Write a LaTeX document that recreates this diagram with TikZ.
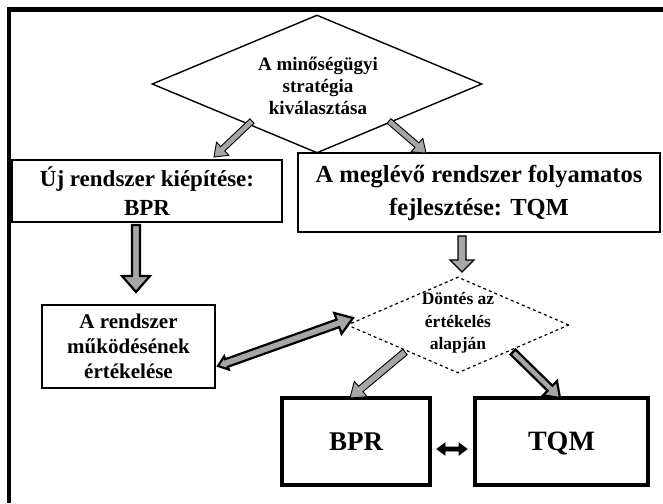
\documentclass[tikz,border=0pt]{standalone}
\usepackage{fontspec}
\setmainfont{Liberation Serif}
\usetikzlibrary{shapes.geometric,calc}
\newcommand{\blockarr}[6]{%
  \path ($(#3)!#6!(#2)$) coordinate (ba-neck);
  \draw[#1] ($(#2)!#4!90:(#3)$) -- ($(ba-neck)!#4!90:(#3)$) -- ($(ba-neck)!#5!90:(#3)$) -- (#3)
    -- ($(ba-neck)!#5!-90:(#3)$) -- ($(ba-neck)!#4!-90:(#3)$) -- ($(#2)!#4!-90:(#3)$) -- cycle;
}
\newcommand{\dblarr}[8]{%
  \path ($(#3)!#6!(#2)$) coordinate (da-n1) ($(#2)!#7!(#3)$) coordinate (da-n2);
  \draw[#1] (#2) -- ($(da-n2)!#8!90:(#3)$) -- ($(da-n2)!#4!90:(#3)$) -- ($(da-n1)!#4!90:(#3)$)
    -- ($(da-n1)!#5!90:(#3)$) -- (#3) -- ($(da-n1)!#5!-90:(#3)$) -- ($(da-n1)!#4!-90:(#3)$)
    -- ($(da-n2)!#4!-90:(#3)$) -- ($(da-n2)!#8!-90:(#3)$) -- cycle;
}
\tikzset{
  boxthin/.style={draw, line width=2pt, inner sep=0pt, align=center},
  boxthick/.style={draw, line width=4pt, inner sep=0pt, text depth=0pt},
  decision/.style={draw, diamond, inner sep=0pt, line width=1.4pt},
  dectext/.style={inner sep=0pt, align=center},
  garrow/.style={fill=gray!70, draw=black, line width=0.9pt, line join=miter},
  darrow/.style={fill=gray!70, draw=black, line width=2.2pt, line join=miter},
  barrow/.style={fill=black, draw=black, line width=0.8pt, line join=miter},
}
\begin{document}
\begin{tikzpicture}[x=1pt,y=-1pt]
\useasboundingbox (0,0) rectangle (663,503);
\fill[white] (0,0) rectangle (663,503);
% frame
\draw[line width=4.5pt] (9,503) -- (9,9.5) -- (663,9.5);
% nodes
\node[decision, minimum width=330pt, minimum height=138pt] (d1) at (317,84) {};
\node[dectext, font=\bfseries\fontsize{19}{22}\selectfont] (d1t) at (318,86) {A minőségügyi\\stratégia\\kiválasztása};
\node[boxthin, minimum width=270pt, minimum height=62pt,
      font=\bfseries\fontsize{23}{29}\selectfont] (lb) at (147,191) {Új rendszer kiépítése:\\BPR};
\node[boxthin, minimum width=362pt, minimum height=79pt,
      font=\bfseries\fontsize{24.5}{33}\selectfont] (rb) at (479,192.5) {A meglévő rendszer folyamatos\\fejlesztése: TQM};
\node[boxthin, minimum width=173pt, minimum height=83pt,
      font=\bfseries\fontsize{21}{25}\selectfont] (ev) at (128.5,346.5) {A rendszer\\működésének\\értékelése};
\node[decision, dashed, line width=1.2pt, minimum width=222pt, minimum height=96pt] (d2) at (458,325) {};
\node[dectext, font=\bfseries\fontsize{17.5}{22.5}\selectfont] (d2t) at (458,323) {Döntés az\\értékelés\\alapján};
\node[boxthick, minimum width=148pt, minimum height=87pt,
      font=\bfseries\fontsize{27}{30}\selectfont] (bpr) at (356,441.5) {BPR};
\node[boxthick, minimum width=173pt, minimum height=87pt,
      font=\bfseries\fontsize{28}{30}\selectfont] (tqm) at (561.5,441.5) {TQM};
% connector end points
\coordinate (a1s) at (252,121); \coordinate (a1e) at (214,157);
\coordinate (a2s) at (389,121); \coordinate (a2e) at (426,153);
\coordinate (a3s) at (136,225); \coordinate (a3e) at (136,292);
\coordinate (a4s) at (462,236); \coordinate (a4e) at (462,272);
\coordinate (a5s) at (218,366); \coordinate (a5e) at (353,318);
\coordinate (a6s) at (405,352); \coordinate (a6e) at (350,398);
\coordinate (a7s) at (513,352); \coordinate (a7e) at (560,398);
\coordinate (a8s) at (437,449); \coordinate (a8e) at (467,449);
% connectors
\blockarr{garrow}{a1s}{a1e}{3pt}{9pt}{12pt}
\blockarr{garrow}{a2s}{a2e}{3pt}{9pt}{12pt}
\blockarr{darrow}{a3s}{a3e}{4pt}{14pt}{16pt}
\blockarr{garrow, line width=1.3pt}{a4s}{a4e}{4pt}{12pt}{12pt}
\dblarr{darrow}{a5s}{a5e}{4pt}{11pt}{16pt}{9pt}{7pt}
\blockarr{garrow}{a6s}{a6e}{3.5pt}{10pt}{14pt}
\blockarr{darrow}{a7s}{a7e}{3.5pt}{10pt}{14pt}
\dblarr{barrow}{a8s}{a8e}{2pt}{6pt}{8pt}{8pt}{6pt}
\end{tikzpicture}
\end{document}
